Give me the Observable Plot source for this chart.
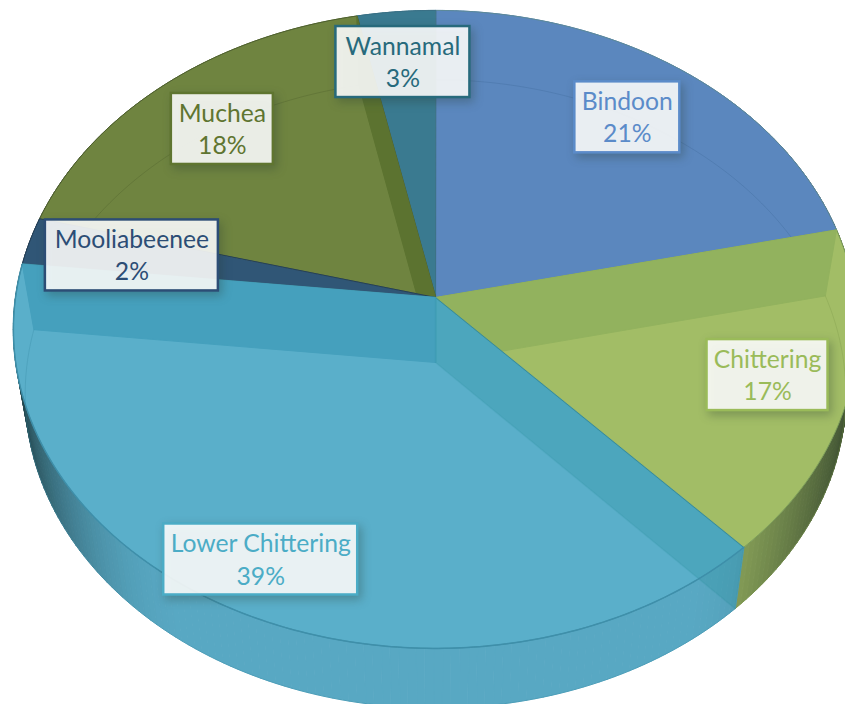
<!DOCTYPE html>
<html><head><meta charset="utf-8">
<script src="https://cdn.jsdelivr.net/npm/d3@7"></script>
<script src="https://cdn.jsdelivr.net/npm/@observablehq/plot@0.6"></script>
<style>
html,body{margin:0;padding:0;background:#fff;overflow:hidden}
svg{display:block}
.labelbox rect{filter:drop-shadow(3px 4px 5px rgba(40,60,50,.35))}
</style></head><body><div id="chart"></div>
<script>
// Data (shares, clockwise from the top)
const names = ["Bindoon","Chittering","Lower Chittering","Mooliabeenee","Muchea","Wannamal"];
const shares = [21.49,16.61,38.6,2.4,17.6,3.3];

// Styles and layout
const faceColors = ["#5B87BE","#A2BD66","#5AAFCA","#305676","#6F8440","#3A7A90"];
const textColors = ["#5B8BC9","#9ABB59","#4BACC6","#2C4D75","#5F7530","#276A7C"];
const edgeColors = ["#5D8A98","#7D9F5A","#3F8B9C","#24405A","#4E5F30","#3A7085"];
const labelRadius = [0.775,0.808,0.857,0.745,0.778,0.81];
const labelWidth = [105,121,194,173,102,134];
const W = 845, H = 704;
const geom = {cx:435, topY:297, botY:362, rx:420, ry:315.8, k:0.1, botX:0.972, botYs:0.985};

let acc = 0;
const slices = names.map((name,i)=>{
  const s0 = acc/100; acc += shares[i]; const s1 = acc/100;
  return {name,i,s0,s1,mid:(s0+s1)/2,pct:Math.round(shares[i])};
});
function P(s, r=1, bottom=false){
  const t = s*2*Math.PI, u = r*Math.sin(t), v = -r*Math.cos(t), w = 1-geom.k*v;
  return bottom
    ? [geom.cx+geom.rx*geom.botX*u/w, geom.botY+geom.ry*geom.botYs*v/w]
    : [geom.cx+geom.rx*u/w, geom.topY+geom.ry*v/w];
}
const steps = (a,b,d=0.002)=>{const n=Math.max(2,Math.ceil((b-a)/d));return d3.range(n+1).map(j=>a+(b-a)*j/n);};
const rows = (id,pts,color,edge)=>pts.map(p=>({id,x:p[0],y:p[1],color,edge:edge||color}));
const face = (sl)=>rows("f"+sl.i,[[geom.cx,geom.topY],...steps(sl.s0,sl.s1).map(s=>P(s))],faceColors[sl.i],edgeColors[sl.i]);
const wallBand = (id,s,color)=>rows(id,[[geom.cx,geom.topY],P(s),P(s,1,true),[geom.cx,geom.botY]],color);
const rimTop = (sl,id)=>rows(id,steps(sl.s0,sl.s1).map(s=>P(s)),"#3E8FAB");
const rimBot = (sl,color)=>rows("b"+sl.i,steps(sl.s0,sl.s1).map(s=>P(s,1,true)),color);

const [bin,chi,low,moo,muc,wan] = slices;

// Outer wall made of narrow quads shaded towards the sides
const wallRows = slices.flatMap(sl=>{
  const ss = steps(sl.s0,sl.s1,0.003);
  return ss.slice(1).flatMap((s,j)=>{
    const a=ss[j], m=(a+s)/2, u=Math.abs(Math.sin(m*2*Math.PI));
    const lo = sl.i===1?0.5:0.55;
    const t=Math.pow(Math.max(0,Math.min(1,(u-lo)/(1-lo))),sl.i===1?1.2:2)*0.72;
    const base=d3.rgb(sl.i===2?"#58A8C3":faceColors[sl.i]);
    const c=d3.interpolateRgb(base,"#0c1a18")(t);
    return rows(`w${sl.i}-${j}`,[P(a),P(s),P(s,1,true),P(a,1,true)],c);
  });
});

const poly=(data,o={})=>Plot.line(data,{x:"x",y:"y",z:"id",curve:"linear-closed",fill:"color",stroke:o.stroke||"color",strokeWidth:o.sw??1,...o.extra});
const arc=(data,w=1,op=0.35)=>Plot.line(data,{x:"x",y:"y",z:"id",stroke:"color",strokeWidth:w,strokeOpacity:op});

const boxes = slices.map(sl=>{
  const [x,y]=P(sl.mid,labelRadius[sl.i]);
  const hw=labelWidth[sl.i]/2;
  return {x1:x-hw,x2:x+hw,y1:y-35.5,y2:y+35.5,x,y,color:textColors[sl.i],text:`${sl.name}\n${sl.pct}%`};
});

const plot = Plot.plot({
  width:W,height:H,margin:0,
  x:{domain:[0,W],range:[0,W],axis:null},
  y:{domain:[0,H],range:[0,H],axis:null},
  color:{type:"identity"},
  style:{background:"#fff",overflow:"hidden"},
  marks:[
    poly(wallRows),
    poly([...face(bin),...face(wan),...face(muc)],{stroke:"edge"}),
    arc([...rimBot(bin,"#3F6A9A"),...rimBot(muc,"#4C5F2A")]),
    poly(wallBand("mb",muc.s1,"#5C7330")),
    poly([...face(moo),...face(chi)],{stroke:"edge"}),
    poly(wallBand("cb",chi.s0,"#92B25E")),
    arc(rimBot(chi,"#7F9A4A")),
    poly(face(low),{stroke:"edge"}),
    poly(wallBand("lb",low.s1,"#45A0BD")),
    Plot.line(wallBand("lr",low.s0,"#2A8F9A"),{x:"x",y:"y",z:"id",curve:"linear-closed",fill:"color",fillOpacity:0.27,stroke:"color",strokeOpacity:0.15}),
    arc(rimBot(low,"#3A8BA6")),
    arc(rimTop(low,"rl"),1.5,0.9),
    Plot.rect(boxes,{x1:"x1",x2:"x2",y1:"y1",y2:"y2",fill:"#fff",fillOpacity:0.88,stroke:"color",strokeWidth:2.5,className:"labelbox"}),
    Plot.text(boxes,{x:"x",y:"y",dy:-1.5,text:"text",fill:"color",fontSize:24.7,fontFamily:"Lato, Carlito, sans-serif",lineHeight:1.31,textAnchor:"middle",lineAnchor:"middle"})
  ]
});
document.getElementById("chart").appendChild(plot);
</script></body></html>
